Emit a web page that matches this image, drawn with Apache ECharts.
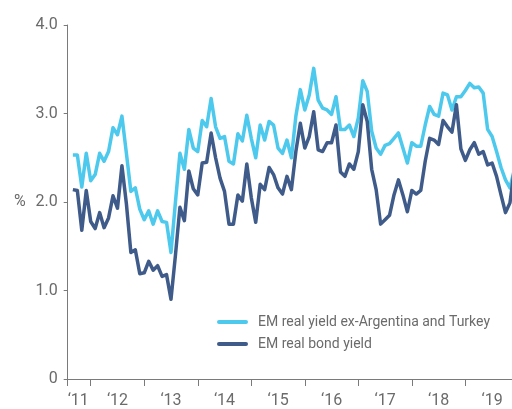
<!DOCTYPE html>
<html>
<head>
<meta charset="utf-8">
<script src="https://cdn.jsdelivr.net/npm/echarts@6/dist/echarts.min.js"></script>
<style>
html, body { margin: 0; padding: 0; background: #fff; }
#chart { width: 512px; height: 409px; }
</style>
</head>
<body>
<div id="chart"></div>
<script>
// month index of the first point (0 = Jan 2011), points are monthly
const firstMonth = 8

const yearLabels = ['‘11', '‘12', '‘13', '‘14', '‘15', '‘16', '‘17', '‘18', '‘19']
const yTicks = [0, 1, 2, 3, 4]

const seriesNames = ['EM real yield ex-Argentina and Turkey', 'EM real bond yield']

const exArgentinaTurkey = [
    2.53, 2.53, 2.17, 2.55, 2.24, 2.31, 2.55, 2.46, 2.57, 2.84,
    2.76, 2.97, 2.55, 2.12, 2.16, 1.92, 1.80, 1.90, 1.75, 1.90,
    1.78, 1.77, 1.43, 2.00, 2.55, 2.37, 2.82, 2.61, 2.57, 2.92,
    2.85, 3.17, 2.85, 2.72, 2.74, 2.46, 2.43, 2.77, 2.69, 2.98,
    2.72, 2.50, 2.87, 2.70, 2.91, 2.87, 2.61, 2.55, 2.70, 2.50,
    2.97, 3.27, 3.04, 3.21, 3.51, 3.15, 3.06, 3.04, 2.99, 3.19,
    2.82, 2.82, 2.87, 2.74, 2.95, 3.37, 3.25, 2.80, 2.61, 2.54,
    2.64, 2.66, 2.72, 2.78, 2.61, 2.44, 2.67, 2.63, 2.63, 2.87,
    3.08, 2.99, 2.97, 3.23, 3.21, 3.04, 3.19, 3.19, 3.26, 3.34,
    3.29, 3.30, 3.23, 2.82, 2.74, 2.57, 2.39, 2.25, 2.16, 2.37,
]

const realBondYield = [
    2.14, 2.13, 1.68, 2.13, 1.78, 1.70, 1.88, 1.71, 1.82, 2.07,
    1.93, 2.41, 1.98, 1.43, 1.46, 1.19, 1.20, 1.33, 1.23, 1.28,
    1.16, 1.18, 0.90, 1.40, 1.94, 1.79, 2.35, 2.15, 2.08, 2.44,
    2.45, 2.78, 2.50, 2.27, 2.12, 1.75, 1.75, 2.08, 2.01, 2.43,
    2.05, 1.77, 2.20, 2.14, 2.39, 2.31, 2.16, 2.09, 2.29, 2.14,
    2.57, 2.89, 2.61, 2.74, 3.02, 2.59, 2.57, 2.67, 2.67, 2.87,
    2.34, 2.29, 2.43, 2.37, 2.57, 3.10, 2.91, 2.37, 2.14, 1.75,
    1.80, 1.85, 2.08, 2.25, 2.08, 1.89, 2.13, 2.09, 2.13, 2.46,
    2.72, 2.70, 2.65, 2.92, 2.85, 2.79, 3.10, 2.60, 2.47, 2.59,
    2.67, 2.54, 2.57, 2.42, 2.44, 2.29, 2.08, 1.88, 1.99, 2.37,
]

const colors = ['#4cc9ec', '#3f5b89']
const textColor = '#6b6b6b'
const axisColor = '#7a7a7a'
const fontFamily = 'Roboto, "Liberation Sans", sans-serif'

const xMin = 6.84
const xMax = 106.46

// legend sample: a short thick line with round ends
const legendIcon = 'path://M2,0 L29,0 A2,2 0 0 1 29,4 L2,4 A2,2 0 0 1 2,0 Z'

const toPoints = function(values) {
    return values.map((v, i) => [firstMonth + i, v])
}

const yearTicks = function() {
    const ticks = [xMin]
    for (let i = 1; i < yearLabels.length; i++) {
        ticks.push(i * 12)
    }
    return ticks
}

const yearLabelPositions = function() {
    // first year is only partly shown, its label sits in the middle of that part
    const pos = [9.2]
    for (let i = 1; i < yearLabels.length; i++) {
        pos.push(i * 12 + 6)
    }
    return pos
}

const buildOption = function() {
    const lineSeries = [exArgentinaTurkey, realBondYield].map((values, k) => {
        return {
            name: seriesNames[k],
            type: 'line',
            symbol: 'none',
            data: toPoints(values),
            lineStyle: { color: colors[k], width: 3.5, join: 'round' },
            itemStyle: { color: colors[k] },
        }
    })

    const option = {
        animation: false,
        grid: { left: 67.7, right: 0, top: 25, bottom: 29 },
        legend: {
            orient: 'vertical',
            left: 212,
            top: 310,
            itemWidth: 31,
            itemHeight: 14,
            itemGap: 8,
            icon: legendIcon,
            data: seriesNames,
            textStyle: { color: textColor, fontSize: 14, fontFamily: fontFamily, padding: [0, 0, 0, 5] },
        },
        graphic: [
            {
                type: 'text',
                left: 14,
                top: 194,
                style: { text: '%', fontSize: 16, fill: textColor, fontFamily: fontFamily },
            },
        ],
        xAxis: {
            type: 'value',
            min: xMin,
            max: xMax,
            splitLine: { show: false },
            axisLine: { show: true, lineStyle: { color: axisColor, width: 1 } },
            axisTick: { show: true, length: 7, customValues: yearTicks(), lineStyle: { color: axisColor } },
            axisLabel: {
                customValues: yearLabelPositions(),
                margin: 14,
                color: textColor,
                fontSize: 16,
                fontFamily: fontFamily,
                formatter: function(v) {
                    return yearLabels[Math.floor(v / 12)]
                },
            },
        },
        yAxis: {
            type: 'value',
            min: yTicks[0],
            max: yTicks[yTicks.length - 1],
            interval: 1,
            splitLine: { show: false },
            axisLine: { show: true, lineStyle: { color: axisColor, width: 1 } },
            axisTick: { show: true, length: 4, lineStyle: { color: axisColor } },
            axisLabel: {
                margin: 10,
                color: textColor,
                fontSize: 16,
                fontFamily: fontFamily,
                formatter: function(v) {
                    return v === 0 ? '0' : v.toFixed(1)
                },
            },
        },
        series: lineSeries,
    }
    return option
}

const __main = function() {
    const element = document.getElementById('chart')
    const chart = echarts.init(element)
    chart.setOption(buildOption())
}

__main()
</script>
</body>
</html>
